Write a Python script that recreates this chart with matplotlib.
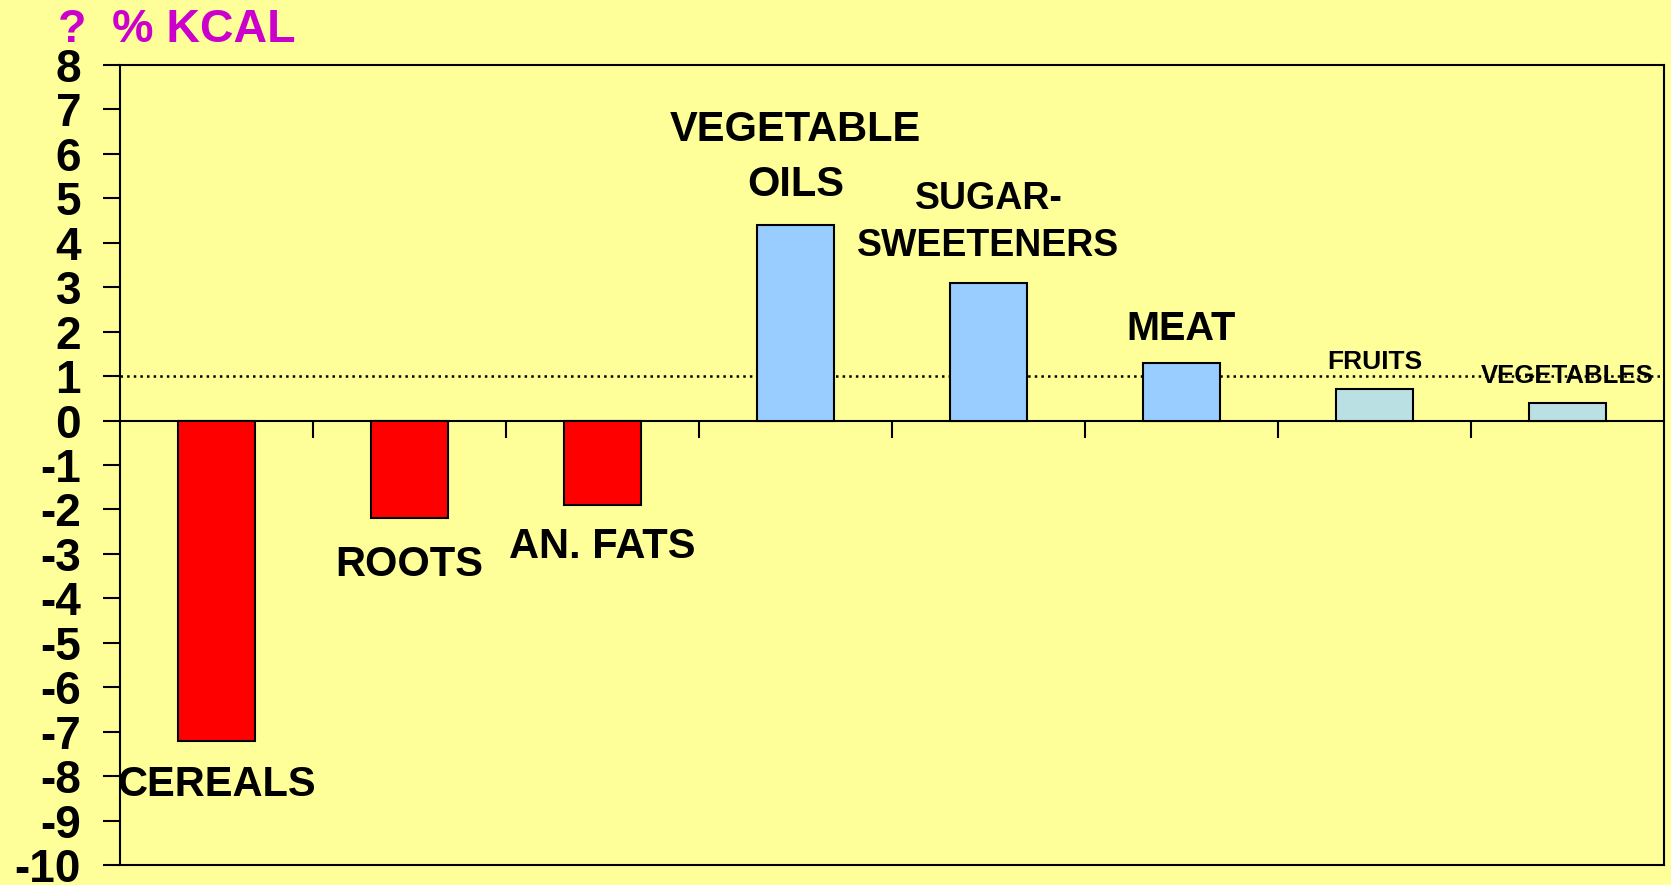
#!/usr/bin/env python3
import matplotlib
matplotlib.use("Agg")
import matplotlib.pyplot as plt
import numpy as np

# change in share of kcal, by food group
groups = ["CEREALS", "ROOTS", "AN. FATS", "VEGETABLE\nOILS", "SUGAR-\nSWEETENERS",
          "MEAT", "FRUITS", "VEGETABLES"]
changes = [-7.2, -2.2, -1.9, 4.4, 3.1, 1.3, 0.7, 0.4]
colors = ["#FF0000", "#FF0000", "#FF0000", "#99CCFF", "#99CCFF", "#99CCFF",
          "#BBE0E3", "#BBE0E3"]
label_y = [-8.2, -3.25, -2.85, 5.92, 4.46, 2.05, 1.32, 1.0]
label_size = [30, 30, 30, 30, 27, 28.5, 19, 18.5]
label_spacing = [1.0, 1.0, 1.0, 1.5, 1.4, 1.0, 1.0, 1.0]
reference_level = 1.0
y_ticks = np.arange(-10, 9, 1)

plt.rcParams["font.family"] = ["Liberation Sans", "DejaVu Sans"]
plt.rcParams["font.weight"] = "bold"

bg = "#FFFF99"
fig = plt.figure(figsize=(16.71, 8.85), dpi=100, facecolor=bg)
ax = fig.add_axes([0.0718, 0.0226, 0.924, 0.904])
ax.set_facecolor(bg)

ind = np.arange(len(groups))
ax.bar(ind, changes, width=0.4, color=colors, edgecolor="black", linewidth=1.5, zorder=3)
ax.axhline(reference_level, color="black", linestyle=":", linewidth=1.8, zorder=2)

for x, name, y, size, ls in zip(ind, groups, label_y, label_size, label_spacing):
    ax.text(x, y, name, ha="center", va="center", fontsize=size, fontweight="bold",
            linespacing=ls, zorder=4)

ax.set_xlim(-0.5, len(groups) - 0.5)
ax.set_ylim(-10, 8)
ax.set_yticks(y_ticks)
ax.set_yticklabels([str(v) for v in y_ticks], fontsize=33, fontweight="bold")
ax.tick_params(axis="y", direction="out", length=12, width=1.5, pad=16)

# x axis sits at zero, ticks between categories
ax.spines["bottom"].set_position(("data", 0))
ax.set_xticks(ind[:-1] + 0.5)
ax.set_xticklabels([])
ax.tick_params(axis="x", direction="out", length=12, width=1.5)
for s in ax.spines.values():
    s.set_linewidth(1.5)
ax.axhline(-10, color="black", linewidth=1.5, clip_on=False)

fig.text(0.0347, 1 - 42 / 885, "?  % KCAL", color="#CC00CC", fontsize=33.5,
         fontweight="bold", va="baseline")

fig.savefig("out.png", dpi=100, facecolor=bg)
